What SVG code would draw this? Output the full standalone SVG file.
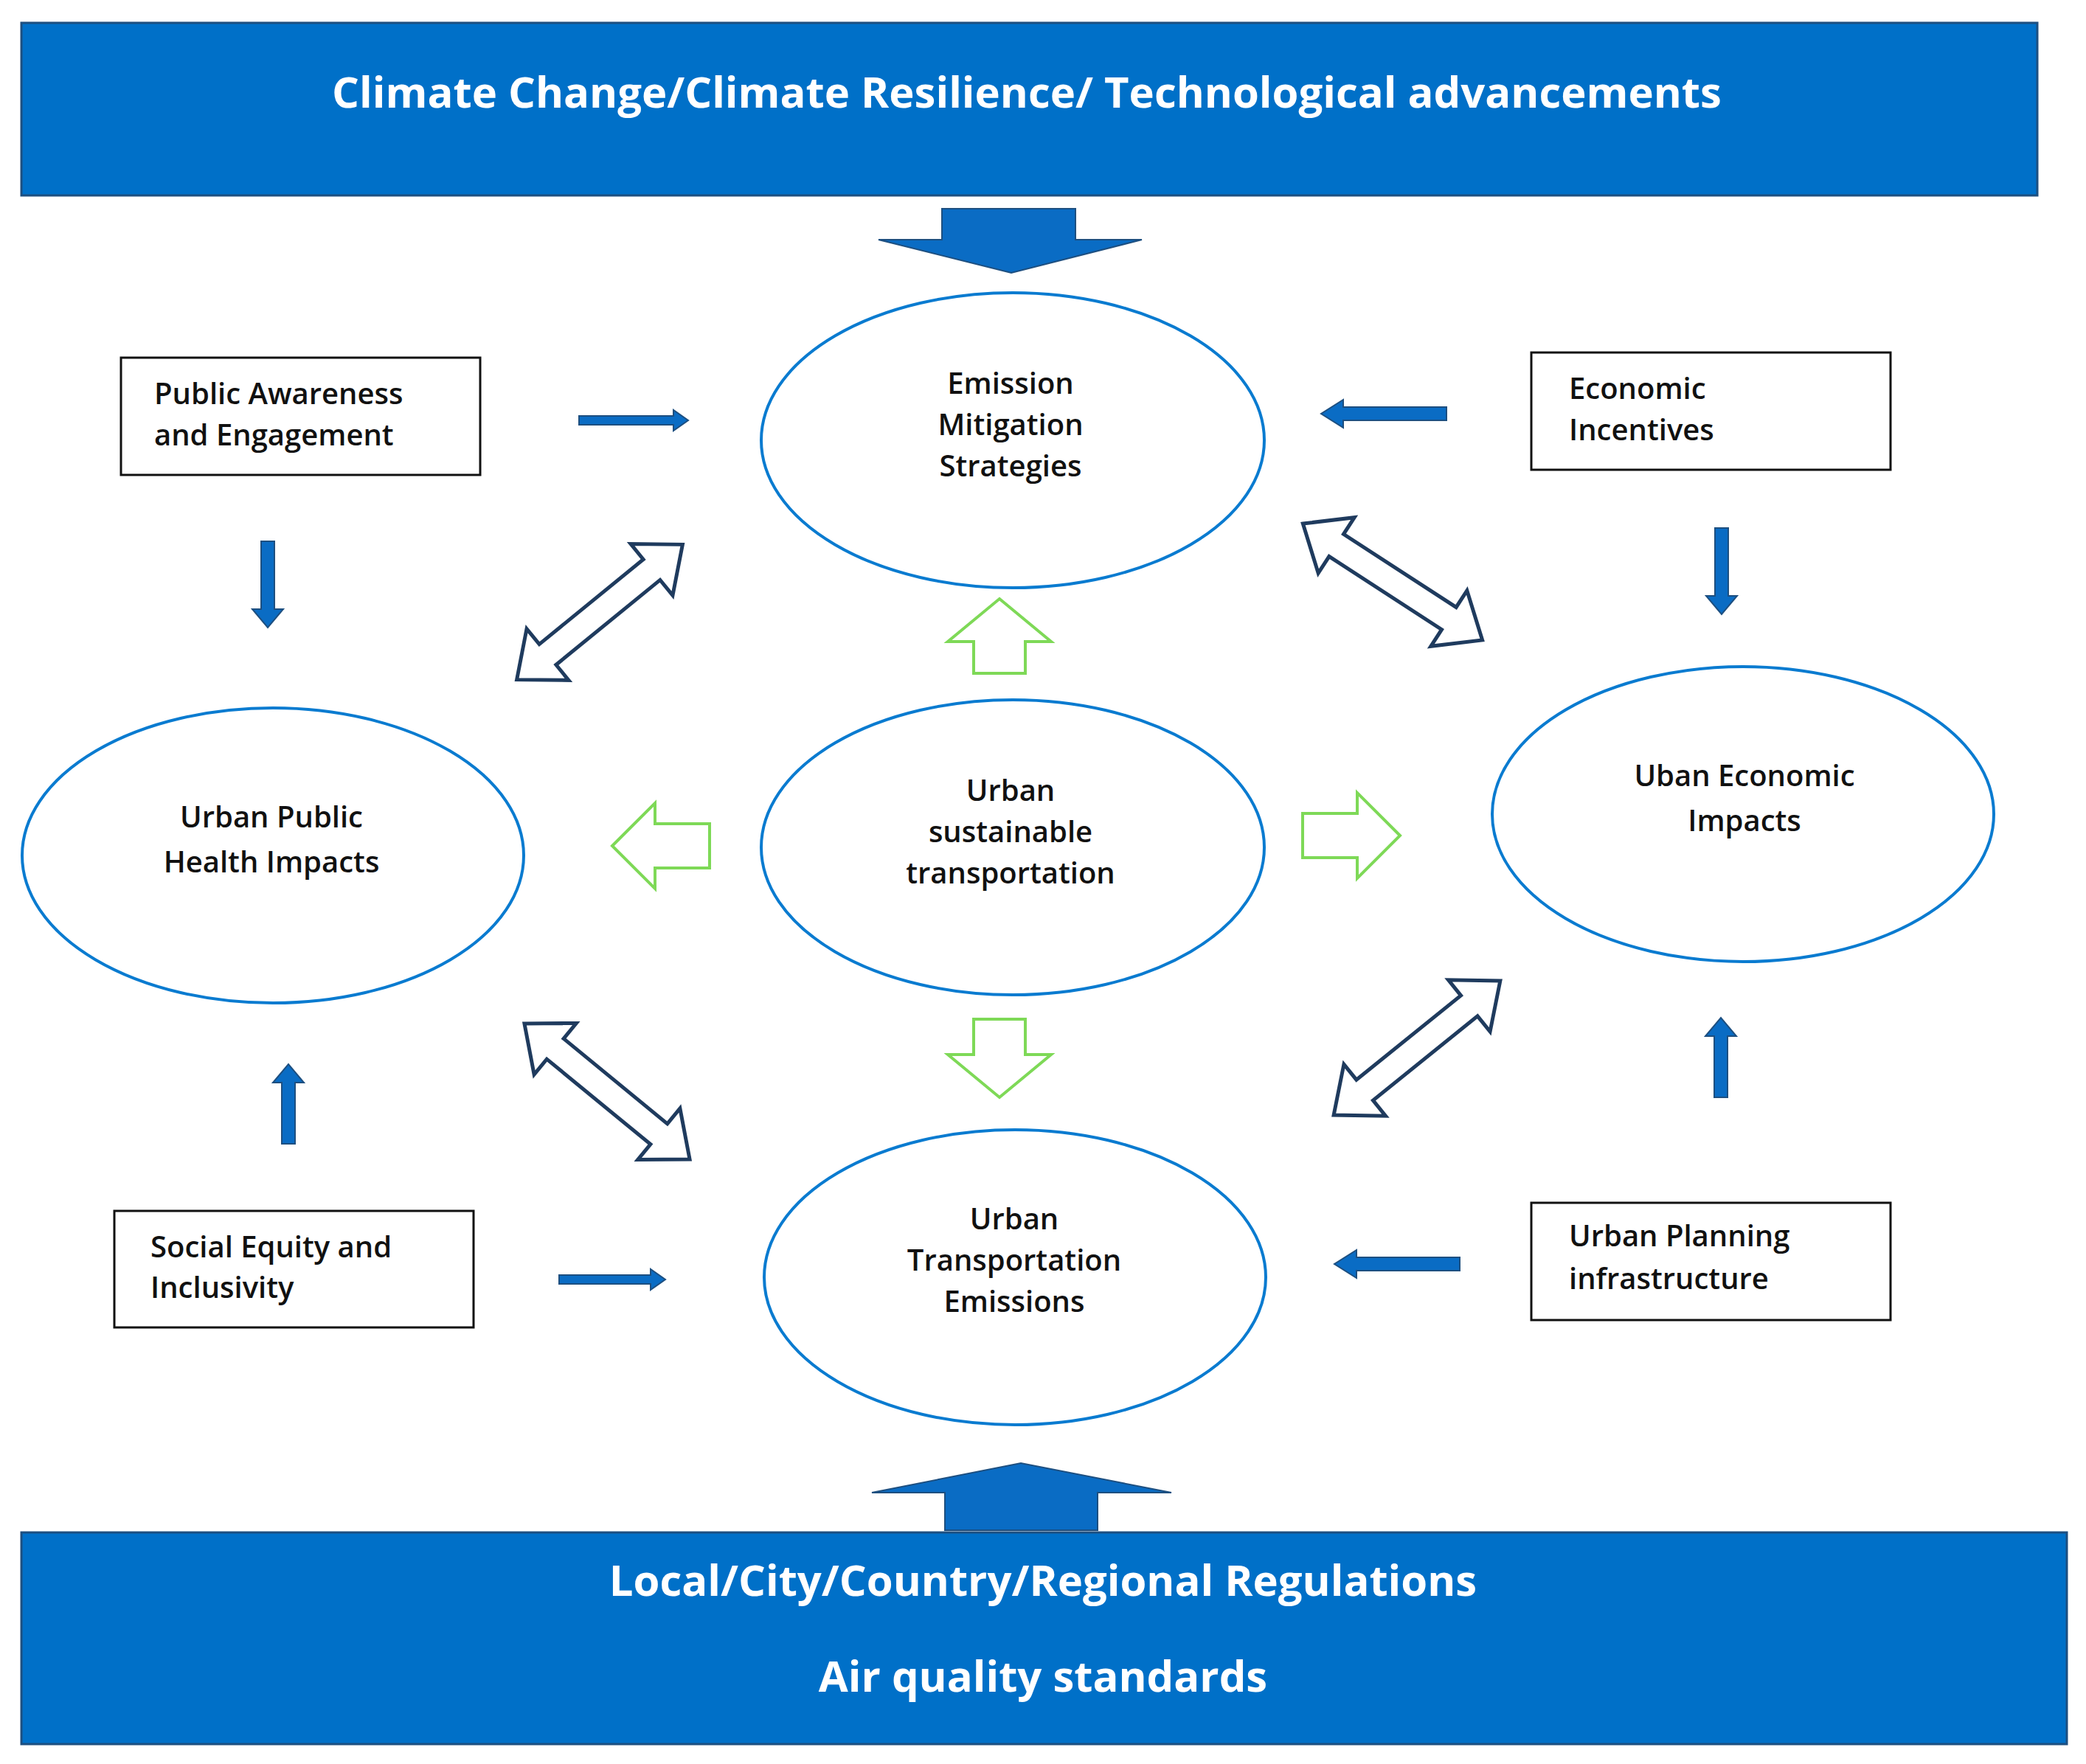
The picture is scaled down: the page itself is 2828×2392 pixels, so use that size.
<svg xmlns="http://www.w3.org/2000/svg" width="2828" height="2392" viewBox="0 0 2828 2392">
<style>
text{font-family:"Open Sans","DejaVu Sans",sans-serif;font-weight:600;fill:#111;font-size:40px;dominant-baseline:central}
.ban{fill:#0070c8;stroke:#1d4f80;stroke-width:3}
.bt{fill:#fff;font-weight:700;font-size:58px;text-anchor:middle}
.ell{fill:#fff;stroke:#0a7bd0;stroke-width:4}
.box{fill:#fff;stroke:#111;stroke-width:3}
.c{text-anchor:middle}
.blue{fill:#0a6cc4;stroke:#1d4f80;stroke-width:2}
.green{fill:#fff;stroke:#7ed957;stroke-width:4}
.dbl{fill:#fff;stroke:#1f3b5e;stroke-width:5}
</style>
<defs>
<polygon id="dbl" class="dbl" points="-145,0 -91,-45 -91,-18 91,-18 91,-45 145,0 91,45 91,18 -91,18 -91,45"/>
</defs>
<rect width="2828" height="2392" fill="#fff"/>
<g id="top-banner"><rect class="ban" x="29" y="31" width="2733" height="234"/>
<text class="bt" x="1392" y="123">Climate Change/Climate  Resilience/ Technological advancements</text></g>
<g id="bottom-banner"><rect class="ban" x="29" y="2078" width="2773" height="287"/>
<text class="bt" x="1414" y="2141">Local/City/Country/Regional Regulations</text>
<text class="bt" x="1414" y="2271">Air quality standards</text></g>
<g id="emission"><ellipse class="ell" cx="1373" cy="597" rx="341" ry="200"/>
<text class="c" x="1370" y="518">Emission</text><text class="c" x="1370" y="574">Mitigation</text><text class="c" x="1370" y="630">Strategies</text></g>
<g id="center"><ellipse class="ell" cx="1373" cy="1149" rx="341" ry="200"/>
<text class="c" x="1370" y="1070">Urban</text><text class="c" x="1370" y="1126">sustainable</text><text class="c" x="1370" y="1182">transportation</text></g>
<g id="emissions"><ellipse class="ell" cx="1376" cy="1732" rx="340" ry="200"/>
<text class="c" x="1375" y="1651">Urban</text><text class="c" x="1375" y="1707">Transportation</text><text class="c" x="1375" y="1763">Emissions</text></g>
<g id="health"><ellipse class="ell" cx="370" cy="1160" rx="340" ry="200"/>
<text class="c" x="368" y="1106">Urban Public</text><text class="c" x="368" y="1167">Health Impacts</text></g>
<g id="economic"><ellipse class="ell" cx="2363" cy="1104" rx="340" ry="200"/>
<text class="c" x="2365" y="1050">Uban Economic</text><text class="c" x="2365" y="1111">Impacts</text></g>
<g id="awareness"><rect class="box" x="164" y="485" width="487" height="159"/>
<text x="209" y="532">Public Awareness</text><text x="209" y="588">and Engagement</text></g>
<g id="incentives"><rect class="box" x="2076" y="478" width="487" height="159"/>
<text x="2127" y="525">Economic</text><text x="2127" y="581">Incentives</text></g>
<g id="equity"><rect class="box" x="155" y="1642" width="487" height="158"/>
<text x="204" y="1689">Social Equity and</text><text x="204" y="1744">Inclusivity</text></g>
<g id="planning"><rect class="box" x="2076" y="1631" width="487" height="159"/>
<text x="2127" y="1674">Urban Planning</text><text x="2127" y="1732">infrastructure</text></g>
<g id="connectors">
<polygon class="blue" points="1277,283 1458,283 1458,325 1548,325 1371,370 1191,325 1277,325"/>
<polygon class="blue" points="1281,2075 1281,2024 1182,2024 1384,1984 1588,2024 1488,2024 1488,2075"/>
<polygon class="blue" points="785,564 913,564 913,556 933,570 913,584 913,576 785,576"/>
<polygon class="blue" points="1961,552 1821,552 1821,542 1791,561 1821,580 1821,570 1961,570"/>
<polygon class="blue" points="354,734 372,734 372,826 384,826 363,851 342,826 354,826"/>
<polygon class="blue" points="2325,716 2343,716 2343,808 2355,808 2334,833 2313,808 2325,808"/>
<polygon class="blue" points="382,1551 400,1551 400,1468 412,1468 391,1443 370,1468 382,1468"/>
<polygon class="blue" points="2324,1488 2342,1488 2342,1405 2354,1405 2333,1380 2312,1405 2324,1405"/>
<polygon class="blue" points="758,1729 882,1729 882,1721 902,1735 882,1749 882,1741 758,1741"/>
<polygon class="blue" points="1979,1705 1839,1705 1839,1695 1809,1714 1839,1733 1839,1723 1979,1723"/>
<polygon class="green" points="1355,812 1425,870 1390,870 1390,913 1320,913 1320,870 1285,870"/>
<polygon class="green" points="1355,1488 1425,1430 1390,1430 1390,1382 1320,1382 1320,1430 1285,1430"/>
<polygon class="green" points="830,1147 888,1089 888,1117 962,1117 962,1177 888,1177 888,1205"/>
<polygon class="green" points="1898,1133 1840,1075 1840,1103 1766,1103 1766,1163 1840,1163 1840,1191"/>
<use href="#dbl" transform="translate(813,830) rotate(-39.2)"/>
<use href="#dbl" transform="translate(1888,789) rotate(33)"/>
<use href="#dbl" transform="translate(823,1480) rotate(39.4)"/>
<use href="#dbl" transform="translate(1921,1421) rotate(-38.9)"/>
</g>
</svg>
